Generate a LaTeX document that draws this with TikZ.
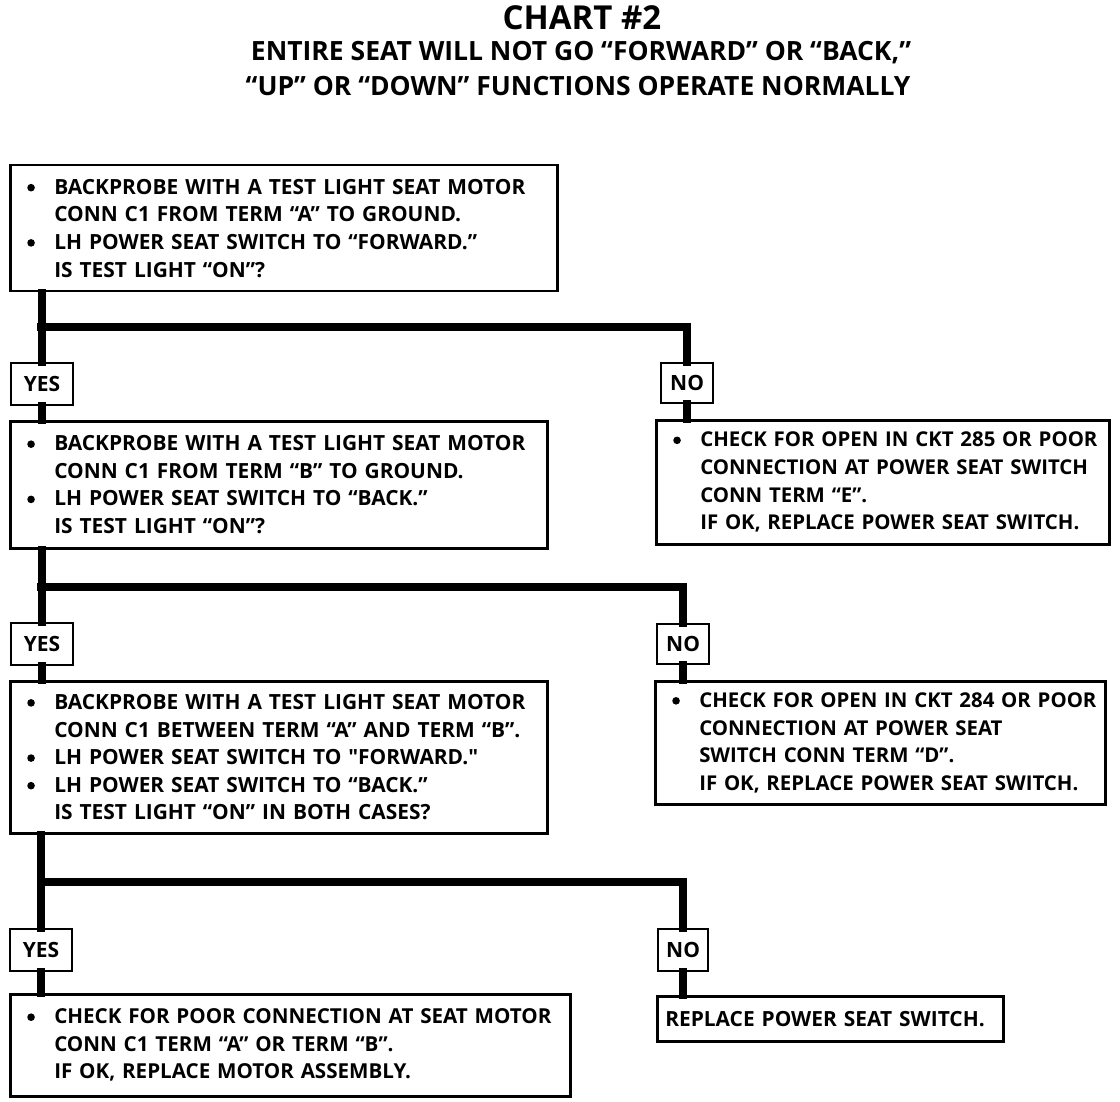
\documentclass[tikz,border=0pt]{standalone}
\usepackage{fontspec}
\setmainfont{Open Sans}
\newfontfamily\chartfont{Open Sans}
\newcommand{\bl}[1]{\mbox{\makebox[27pt][l]{\raisebox{2.8pt}{\tikz\fill (0,0) circle (3.8pt);}}#1}}
\newcommand{\ind}[1]{\mbox{\hspace*{27pt}#1}}
\begin{document}
\begin{tikzpicture}[x=1pt,y=-1pt,
  box/.style={draw, line width=2.5pt, rectangle, anchor=north west, inner ysep=0pt,
    inner xsep=17pt, align=left, fill=white,
    font=\chartfont\bfseries\fontsize{20.9}{27.6}\selectfont},
  rbox/.style={box, font=\chartfont\bfseries\fontsize{20.4}{27.6}\selectfont},
  lab/.style={draw, line width=2.2pt, rectangle, anchor=north west, inner sep=0pt,
    minimum width=62pt, minimum height=42pt, fill=white,
    font=\chartfont\bfseries\fontsize{21}{24}\selectfont},
  trunk/.style={line width=7.5pt, line cap=rect},
  ttl/.style={font=\chartfont\bfseries\fontsize{26.5}{30}\selectfont, inner sep=0pt}
]
\useasboundingbox (0,0) rectangle (1120,1102);
% title
\node[ttl, font=\chartfont\bfseries\fontsize{33}{36}\selectfont] (t1) at (582,18) {CHART \#2};
\node[ttl] (t2) at (581,53) {ENTIRE SEAT WILL NOT GO “FORWARD” OR “BACK,”};
\node[ttl] (t3) at (578,86) {“UP” OR “DOWN” FUNCTIONS OPERATE NORMALLY};

% left column boxes
\node[box, minimum width=547pt, minimum height=126pt, text width=513pt] (q1) at (9,164)
 {\bl{BACKPROBE WITH A TEST LIGHT SEAT MOTOR}\\
  \ind{CONN C1 FROM TERM “A” TO GROUND.}\\
  \bl{LH POWER SEAT SWITCH TO “FORWARD.”}\\
  \ind{IS TEST LIGHT “ON”?}};
\node[lab] (y1) at (10,362) {YES};
\node[box, minimum width=537pt, minimum height=127pt, text width=503pt] (q2) at (9,420)
 {\bl{BACKPROBE WITH A TEST LIGHT SEAT MOTOR}\\
  \ind{CONN C1 FROM TERM “B” TO GROUND.}\\
  \bl{LH POWER SEAT SWITCH TO “BACK.”}\\
  \ind{IS TEST LIGHT “ON”?}};
\node[lab] (y2) at (10,622) {YES};
\node[box, minimum width=537pt, minimum height=152pt, text width=503pt] (q3) at (9,680)
 {\bl{BACKPROBE WITH A TEST LIGHT SEAT MOTOR}\\
  \ind{CONN C1 BETWEEN TERM “A” AND TERM “B”.}\\
  \bl{LH POWER SEAT SWITCH TO "FORWARD."}\\
  \bl{LH POWER SEAT SWITCH TO “BACK.”}\\
  \ind{IS TEST LIGHT “ON” IN BOTH CASES?}};
\node[lab] (y3) at (9,928) {YES};
\node[box, minimum width=560pt, minimum height=102pt, text width=526pt,
  font=\chartfont\bfseries\fontsize{20.6}{27.6}\selectfont] (a4) at (9,993)
 {\bl{CHECK FOR POOR CONNECTION AT SEAT MOTOR}\\
  \ind{CONN C1 TERM “A” OR TERM “B”.}\\
  \ind{IF OK, REPLACE MOTOR ASSEMBLY.}};

% right column
\node[lab, minimum width=52pt, minimum height=40pt] (n1) at (660,362) {NO};
\node[rbox, minimum width=453pt, minimum height=124pt, text width=419pt] (a1) at (655,419)
 {\bl{CHECK FOR OPEN IN CKT 285 OR POOR}\\
  \ind{CONNECTION AT POWER SEAT SWITCH}\\
  \ind{CONN TERM “E”.}\\
  \ind{IF OK, REPLACE POWER SEAT SWITCH.}};
\node[lab, minimum width=52pt, minimum height=40pt] (n2) at (656,623) {NO};
\node[rbox, minimum width=450pt, minimum height=123pt, text width=416pt] (a2) at (654,680)
 {\bl{CHECK FOR OPEN IN CKT 284 OR POOR}\\
  \ind{CONNECTION AT POWER SEAT}\\
  \ind{SWITCH CONN TERM “D”.}\\
  \ind{IF OK, REPLACE POWER SEAT SWITCH.}};
\node[lab, minimum width=50pt, minimum height=42pt] (n3) at (657,928) {NO};
\node[box, minimum width=346pt, minimum height=45pt, text width=330pt, inner xsep=8pt] (a3) at (656,995)
 {\mbox{REPLACE POWER SEAT SWITCH.}};

% branch points
\coordinate (b1) at (41,327);
\coordinate (b2) at (41,587);
\coordinate (b3) at (41,882);

% connectors
\draw[trunk] (y1.north |- q1.south) -- (y1.north);
\draw[trunk] (b1) -| (n1.north);
\draw[trunk] (y1.south) -- (y1.south |- q2.north);
\draw[trunk] (n1.south) -- (n1.south |- a1.north);

\draw[trunk] (y2.north |- q2.south) -- (y2.north);
\draw[trunk] (b2) -| (n2.north);
\draw[trunk] (y2.south) -- (y2.south |- q3.north);
\draw[trunk] (n2.south) -- (n2.south |- a2.north);

\draw[trunk] (y3.north |- q3.south) -- (y3.north);
\draw[trunk] (b3) -| (n3.north);
\draw[trunk] (y3.south) -- (y3.south |- a4.north);
\draw[trunk] (n3.south) -- (n3.south |- a3.north);
\end{tikzpicture}
\end{document}
